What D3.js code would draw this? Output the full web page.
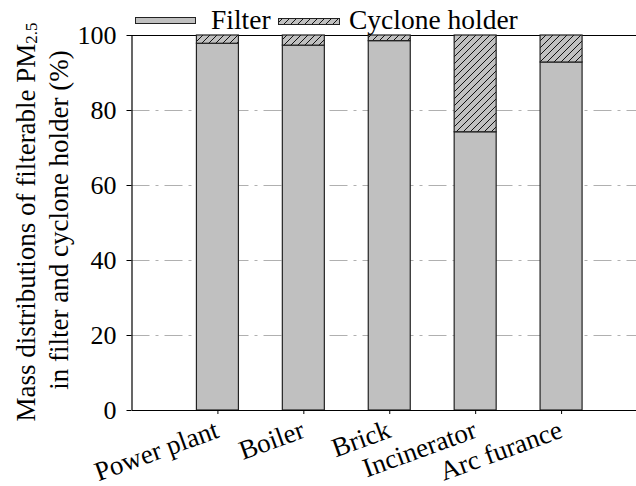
<!DOCTYPE html>
<html>
<head>
<meta charset="utf-8">
<script src="https://cdn.jsdelivr.net/npm/d3@7"></script>
<style>
  body { margin: 0; background: #fff; }
</style>
</head>
<body>
<div class="chart"></div>
<script>
// data (percent)
var categories = ["Power plant", "Boiler", "Brick", "Incinerator", "Arc furance"];
var filterVals = [97.8, 97.3, 98.5, 74.2, 92.8];
var cycloneVals = [2.2, 2.7, 1.5, 25.8, 7.2];
var yTicks = [0, 20, 40, 60, 80, 100];
var legendNames = ["Filter", "Cyclone holder"];

var width = 636, height = 486;
var font = "'Liberation Serif', 'Times New Roman', serif";

var svg = d3.select('.chart').append('svg')
    .attr("width", width)
    .attr("height", height)
    .style("font-family", font);

var defs = svg.append("defs");
var pat = defs.append("pattern")
    .attr("id", "hatch")
    .attr("patternUnits", "userSpaceOnUse")
    .attr("width", 7).attr("height", 7);
pat.append("rect").attr("width", 7).attr("height", 7).attr("fill", "#c0c0c0");
pat.append("path")
    .attr("d", "M0,7 L7,0 M-1,1 L1,-1 M6,8 L8,6")
    .attr("stroke", "#111").attr("stroke-width", 1);

// positions 1..5 on a linear scale, plot runs past the right edge
var x = d3.scaleLinear().domain([0, 6]).range([131.5, 647]);
var y = d3.scaleLinear().domain([0, 100]).range([410, 35]);
var barW = 42;

// grid lines (dash-dot)
svg.append("g").selectAll("line")
    .data(yTicks.filter(d => d > 0 && d < 100))
    .join("line")
    .attr("x1", x(0)).attr("x2", width)
    .attr("y1", d => y(d) + 0.5).attr("y2", d => y(d) + 0.5)
    .attr("stroke", "#b0b0b0")
    .attr("stroke-width", 1)
    .attr("stroke-dasharray", "18,6,3,6");

// top border
svg.append("line")
    .attr("x1", x(0) - 4).attr("x2", width)
    .attr("y1", y(100) + 0.5).attr("y2", y(100) + 0.5)
    .attr("stroke", "#000").attr("stroke-width", 1.2);

// bars: filter (bottom) + cyclone holder (top)
var bars = svg.append("g");
bars.selectAll("rect.filter")
    .data(filterVals)
    .join("rect")
    .attr("class", "filter")
    .attr("x", (d, i) => x(i + 1) - barW / 2)
    .attr("y", d => y(d))
    .attr("width", barW)
    .attr("height", d => y(0) - y(d))
    .attr("fill", "#c0c0c0")
    .attr("stroke", "#222")
    .attr("stroke-width", 1.2);

bars.selectAll("rect.cyclone")
    .data(cycloneVals)
    .join("rect")
    .attr("class", "cyclone")
    .attr("x", (d, i) => x(i + 1) - barW / 2)
    .attr("y", (d, i) => y(filterVals[i] + d))
    .attr("width", barW)
    .attr("height", (d, i) => y(filterVals[i]) - y(filterVals[i] + d))
    .attr("fill", "url(#hatch)")
    .attr("stroke", "#222")
    .attr("stroke-width", 1.2);

// y axis
var yAxis = svg.append("g")
    .attr("transform", `translate(${x(0)},0)`)
    .call(d3.axisLeft(y).tickValues(yTicks).tickSize(5).tickPadding(10).tickSizeOuter(0));
yAxis.select(".domain").attr("stroke-width", 1.2);
yAxis.selectAll("text").style("font-size", "26px").style("font-family", font).attr("fill", "#000");

// x axis
var xAxis = svg.append("g")
    .attr("transform", `translate(0,${y(0)})`)
    .call(d3.axisBottom(x).tickValues([1, 2, 3, 4, 5]).tickSize(4).tickSizeOuter(0).tickFormat(""));
xAxis.select(".domain").attr("stroke-width", 1.2);

svg.append("g").selectAll("text")
    .data(categories)
    .join("text")
    .attr("transform", (d, i) => `translate(${x(i + 1) + 3},${437}) rotate(-20)`)
    .attr("text-anchor", "end")
    .style("font-size", "27px")
    .text(d => d);

// y title, two lines
var title = svg.append("text")
    .attr("transform", "rotate(-90)")
    .attr("text-anchor", "middle")
    .style("font-size", "27px");
var t1 = title.append("tspan").attr("x", -222).attr("y", 35);
t1.append("tspan").text("Mass distributions of filterable PM");
t1.append("tspan").attr("dy", 2).style("font-size", "17px").text("2.5");
title.append("tspan").attr("x", -220).attr("y", 68).text("in filter and cyclone holder (%)");

// legend
var legend = svg.append("g");
legend.append("rect")
    .attr("x", 135.5).attr("y", 17.5).attr("width", 60).attr("height", 6)
    .attr("fill", "#c0c0c0").attr("stroke", "#222");
legend.append("text")
    .attr("x", 211).attr("y", 29)
    .style("font-size", "27.5px")
    .text(legendNames[0]);
legend.append("rect")
    .attr("x", 278.5).attr("y", 18.5).attr("width", 61).attr("height", 6)
    .attr("fill", "url(#hatch)").attr("stroke", "#222");
legend.append("text")
    .attr("x", 349).attr("y", 29)
    .style("font-size", "27.5px")
    .text(legendNames[1]);
</script>
</body>
</html>
